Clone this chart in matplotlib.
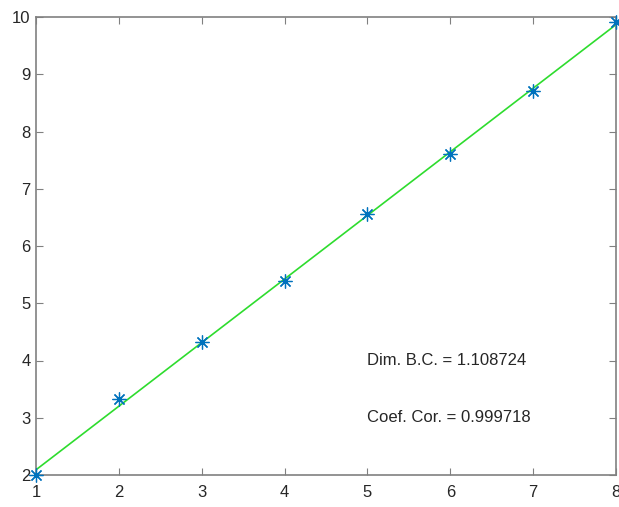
import numpy as np
import matplotlib
matplotlib.use('Agg')
import matplotlib.pyplot as plt

plt.rcParams['font.family'] = ['Liberation Sans', 'DejaVu Sans']

# data
x = [1, 2, 3, 4, 5, 6, 7, 8]
y = [2.0, 3.33, 4.32, 5.39, 6.56, 7.61, 8.71, 9.91]
dim_bc = 1.108724
coef_cor = 0.999718

# linear fit drawn through the points
p = np.polyfit(x, y, 1)
xf = np.array([x[0], x[-1]])
yf = np.polyval(p, xf)

fig = plt.figure(figsize=(6.19, 5.07), dpi=100)
ax = fig.add_axes([36 / 619, 32 / 507, 580 / 619, 458 / 507])

ax.plot(xf, yf, color='#2edc2e', linewidth=1.2, zorder=2)
# MATLAB-style asterisk marker
ax.plot(x, y, linestyle='none', marker=(8, 2, 0), markersize=10, color='#0072BD',
        markeredgewidth=0.9, zorder=3, clip_on=False)

ax.text(5, 4, 'Dim. B.C. = %f' % dim_bc, fontsize=12, color='#262626', va='center', ha='left')
ax.text(5, 3, 'Coef. Cor. = %f' % coef_cor, fontsize=12, color='#262626', va='center', ha='left')

ax.set_xlim(1, 8)
ax.set_ylim(2, 10)
ax.set_xticks(range(1, 9))
ax.set_yticks(range(2, 11))
ax.tick_params(direction='in', length=5, width=0.8, colors='#808080',
               labelcolor='#262626', labelsize=12, top=True, right=True,
               labeltop=False, labelright=False)
ax.tick_params(axis='x', pad=7)
ax.tick_params(axis='y', pad=4)
for s in ax.spines.values():
    s.set_color('#808080')
    s.set_linewidth(1.2)

fig.savefig('out.png', dpi=100)
